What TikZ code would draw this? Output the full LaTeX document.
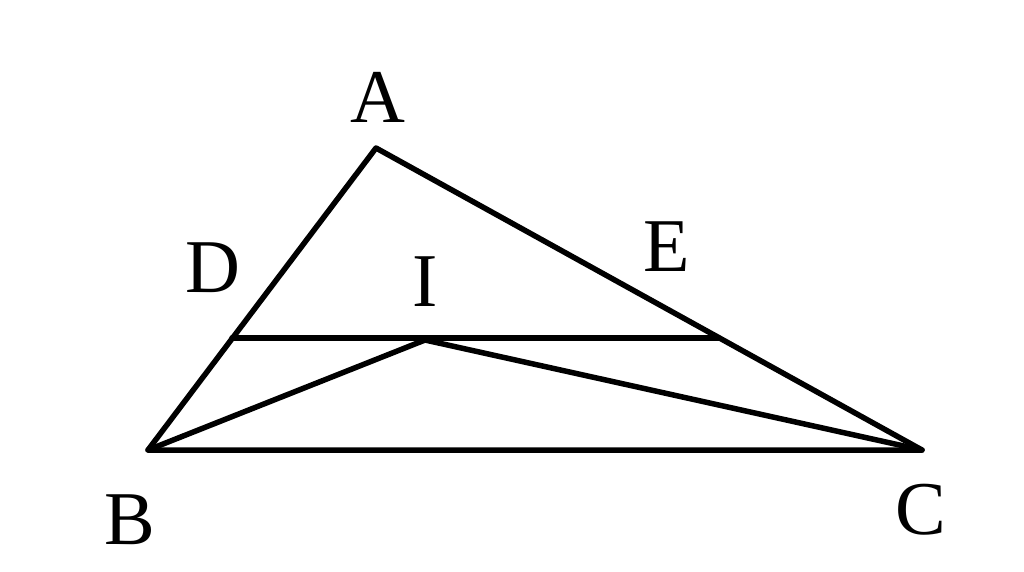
\documentclass[tikz,border=0pt]{standalone}
\usepackage{fontspec}
\setmainfont{Liberation Serif}
\begin{document}
\begin{tikzpicture}[x=1pt,y=-1pt,
  seg/.style={line width=5.5pt,line join=round,line cap=round},
  lbl/.style={font=\fontsize{76}{76}\selectfont,inner sep=0pt}]
\useasboundingbox (0,0) rectangle (1024,572);
\coordinate (A) at (376,148);
\coordinate (B) at (148,450);
\coordinate (C) at (922,450);
\coordinate (D) at (232,338);
\coordinate (E) at (719,338);
\coordinate (I) at (425,340);
\draw[seg] (A) -- (B) -- (C) -- cycle;
\draw[seg] (D) -- (E);
\draw[seg] (B) -- (I) -- (C);
\node[lbl] (lA) at (378,97) {A};
\node[lbl] (lD) at (213,268) {D};
\node[lbl] (lE) at (667,247) {E};
\node[lbl] (lI) at (425,282) {I};
\node[lbl] (lB) at (130,520) {B};
\node[lbl] (lC) at (921,510) {C};
\end{tikzpicture}
\end{document}
